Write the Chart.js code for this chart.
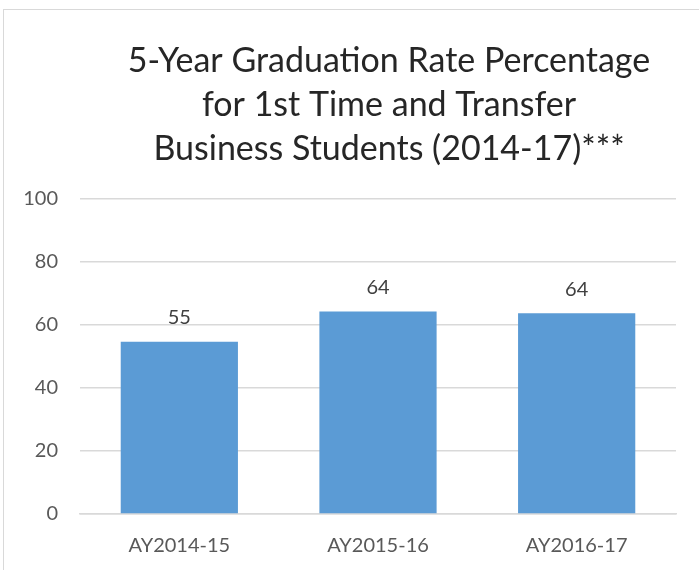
<!DOCTYPE html>
<html>
<head>
<meta charset="utf-8">
<script src="https://cdn.jsdelivr.net/npm/chart.js@4/dist/chart.umd.min.js"></script>
<style>
  html, body { margin: 0; padding: 0; background: #fff; overflow: hidden; }
  #frame {
    position: absolute; left: 3px; top: 9px;
    width: 770px; height: 600px;
    border: 1px solid #d9d9d9; background: #fff;
  }
</style>
</head>
<body>
<div id="frame"><canvas id="gradChart" width="770" height="600"></canvas></div>
<script>
const categories = ["AY2014-15", "AY2015-16", "AY2016-17"];
const gradRates = [54.7, 64.3, 63.7];
const yTicks = [0, 20, 40, 60, 80, 100];
const titleLines = [
  "5-Year Graduation Rate Percentage",
  "for 1st Time and Transfer",
  "Business Students (2014-17)***"
];

// value labels above the bars
const barLabels = {
  id: "barLabels",
  afterDatasetsDraw(chart) {
    const ctx = chart.ctx;
    const meta = chart.getDatasetMeta(0);
    ctx.save();
    ctx.font = "20px Lato";
    ctx.fillStyle = "#404040";
    ctx.textAlign = "center";
    ctx.textBaseline = "alphabetic";
    meta.data.forEach((bar, i) => {
      ctx.fillText(Math.round(gradRates[i]), bar.x, bar.y - 17.5);
    });
    ctx.restore();
  },
};

const ctx = document.getElementById("gradChart").getContext("2d");
const gradChart = new Chart(ctx, {
  type: "bar",
  data: {
    labels: categories,
    datasets: [
      {
        label: "Graduation Rate",
        data: gradRates,
        backgroundColor: "#5b9bd5",
        categoryPercentage: 1,
        barPercentage: 0.59,
      },
    ],
  },
  options: {
    responsive: false,
    animation: false,
    layout: {
      padding: { left: 0, right: 0, top: 0, bottom: 32 },
    },
    scales: {
      y: {
        min: 0,
        max: 100,
        afterFit(scale) {
          scale.width = 76;
        },
        afterBuildTicks(scale) {
          scale.ticks = yTicks.map((v) => ({ value: v }));
        },
        ticks: {
          padding: 22,
          color: "#595959",
          font: { family: "Lato", size: 20 },
        },
        grid: { color: "#d9d9d9", drawTicks: false, lineWidth: 1.5 },
        border: { display: false },
      },
      // empty space on the right, so the title stays centred on the whole frame
      yRight: {
        position: "right",
        min: 0,
        max: 100,
        afterFit(scale) {
          scale.width = 98;
        },
        ticks: { display: false },
        grid: { display: false, drawTicks: false },
        border: { display: false },
      },
      x: {
        ticks: {
          padding: 20,
          color: "#595959",
          font: { family: "Lato", size: 20 },
        },
        grid: { display: false, drawTicks: false },
        border: { color: "#d9d9d9", width: 1.5 },
      },
    },
    plugins: {
      legend: { display: false },
      tooltip: { enabled: false },
      title: {
        display: true,
        text: titleLines,
        color: "#262626",
        font: { family: "Lato", size: 34, weight: "normal", lineHeight: 1.294 },
        padding: { top: 29, bottom: 28 },
      },
    },
  },
  plugins: [barLabels],
});
</script>
</body>
</html>
